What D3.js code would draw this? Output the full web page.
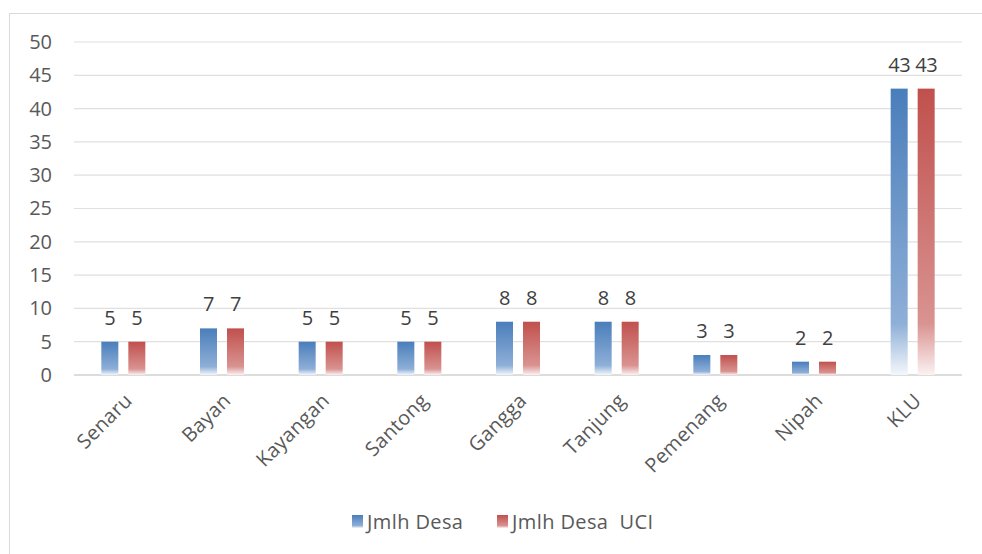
<!DOCTYPE html>
<html>
<head>
<meta charset="utf-8">
<script src="https://cdn.jsdelivr.net/npm/d3@7"></script>
<style>
  body { margin: 0; background: #fff; }
  svg { display: block; font-family: "Open Sans", "Liberation Sans", sans-serif; }
</style>
</head>
<body>
<svg id="chart" width="982" height="554"></svg>
<script>
// data
var categories = ["Senaru", "Bayan", "Kayangan", "Santong", "Gangga", "Tanjung", "Pemenang", "Nipah", "KLU"];
var jmlhDesa = [5, 7, 5, 5, 8, 8, 3, 2, 43];
var jmlhDesaUci = [5, 7, 5, 5, 8, 8, 3, 2, 43];
var seriesNames = ["Jmlh Desa", "Jmlh Desa  UCI"];
var yTicks = [0, 5, 10, 15, 20, 25, 30, 35, 40, 45, 50];

var svg = d3.select("#chart");
var width = 982, height = 554;

// outer frame of the chart box
svg.append("rect")
  .attr("x", 9.5).attr("y", 13.5)
  .attr("width", 990).attr("height", 560)
  .attr("fill", "#fff").attr("stroke", "#d9d9d9");

var margin = {top: 42, left: 74, right: 20, bottom: 179};
var plotW = 962 - margin.left, plotH = 375 - margin.top;
var g = svg.append("g").attr("transform", "translate(" + margin.left + "," + margin.top + ")");

var x = d3.scaleBand().domain(categories).range([0, plotW]);
var y = d3.scaleLinear().domain([0, 50]).range([plotH, 0]);

// gradients: solid at top, fading to white at base
var defs = svg.append("defs");
var palette = [
  {id: "gBlue", top: "#4a7ebb", mid: "#8eafd7", end: "#f4f7fc"},
  {id: "gRed", top: "#c0504d", mid: "#d99391", end: "#fbf2f2"}
];
palette.forEach(function(p) {
  var lg = defs.append("linearGradient").attr("id", p.id)
    .attr("x1", 0).attr("y1", 0).attr("x2", 0).attr("y2", 1);
  lg.append("stop").attr("offset", "0%").attr("stop-color", p.top);
  lg.append("stop").attr("offset", "82%").attr("stop-color", p.mid);
  lg.append("stop").attr("offset", "100%").attr("stop-color", p.end);
});

// gridlines
g.selectAll("line.grid").data(yTicks).enter().append("line")
  .attr("class", "grid")
  .attr("x1", 0).attr("x2", plotW)
  .attr("y1", function(d) { return y(d); })
  .attr("y2", function(d) { return y(d); })
  .attr("stroke", function(d) { return d === 0 ? "#d0d0d0" : "#e0e0e0"; })
  .attr("stroke-width", function(d) { return d === 0 ? 1.5 : 1.2; });

// y axis labels
var yAxis = g.append("g").call(d3.axisLeft(y).tickValues(yTicks).tickSize(0).tickPadding(22));
yAxis.select(".domain").remove();
yAxis.selectAll("text").attr("font-size", 20).attr("fill", "#595959")
  .attr("font-family", "Open Sans, Liberation Sans, sans-serif");

// bars
var barW = 17, gap = 10;
var series = [jmlhDesa, jmlhDesaUci];
series.forEach(function(vals, si) {
  var off = si === 0 ? -(barW + gap / 2) : gap / 2;
  var fill = si === 0 ? "url(#gBlue)" : "url(#gRed)";
  g.selectAll("rect.s" + si).data(vals).enter().append("rect")
    .attr("class", "s" + si)
    .attr("x", function(d, i) { return x(categories[i]) + x.bandwidth() / 2 + off; })
    .attr("y", function(d) { return y(d); })
    .attr("width", barW)
    .attr("height", function(d) { return y(0) - y(d); })
    .attr("fill", fill);

  g.selectAll("text.v" + si).data(vals).enter().append("text")
    .attr("class", "v" + si)
    .attr("x", function(d, i) { return x(categories[i]) + x.bandwidth() / 2 + off + barW / 2; })
    .attr("y", function(d) { return y(d) - 17; })
    .attr("text-anchor", "middle")
    .attr("font-size", 20).attr("fill", "#404040")
    .attr("letter-spacing", -0.5)
    .text(function(d) { return d; });
});

// category labels rotated
g.selectAll("text.cat").data(categories).enter().append("text")
  .attr("class", "cat")
  .attr("transform", function(d) {
    return "translate(" + (x(d) + x.bandwidth() / 2 + 5) + "," + (plotH + 22) + ") rotate(-45)";
  })
  .attr("text-anchor", "end")
  .attr("dy", "0.35em")
  .attr("font-size", 20).attr("fill", "#595959")
  .attr("letter-spacing", 0.3)
  .text(function(d) { return d; });

// legend
var legend = svg.append("g");
var legendItems = [
  {name: seriesNames[0], fill: "url(#gBlue)", x: 352},
  {name: seriesNames[1], fill: "url(#gRed)", x: 497}
];
legendItems.forEach(function(it) {
  legend.append("rect").attr("x", it.x).attr("y", 515).attr("width", 11).attr("height", 13).attr("fill", it.fill);
  legend.append("text").attr("x", it.x + 15).attr("y", 529)
    .attr("font-size", 20).attr("fill", "#595959")
    .attr("letter-spacing", 0.4)
    .attr("xml:space", "preserve")
    .text(it.name);
});
</script>
</body>
</html>
